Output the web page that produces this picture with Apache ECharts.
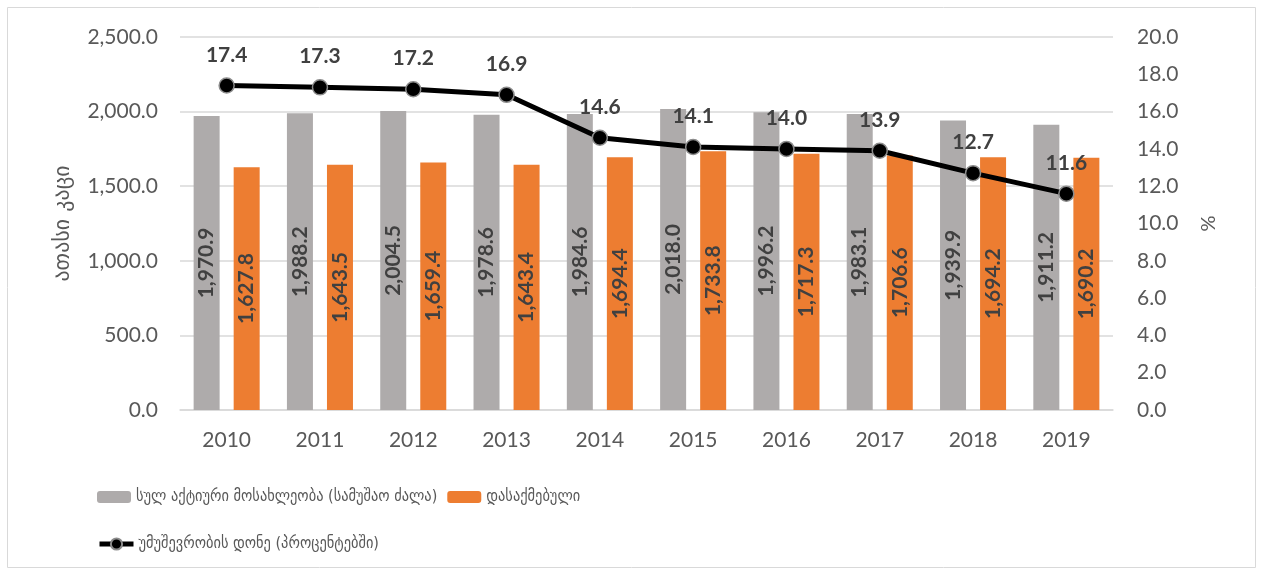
<!DOCTYPE html>
<html><head><meta charset="utf-8">
<script src="https://cdn.jsdelivr.net/npm/echarts@6/dist/echarts.min.js"></script>
<style>html,body{margin:0;padding:0;background:#fff}#c{width:1261px;height:571px}</style>
</head><body><div id="c"></div>
<script>
const categories = ['2010','2011','2012','2013','2014','2015','2016','2017','2018','2019'];
const labourForce = [1970.9, 1988.2, 2004.5, 1978.6, 1984.6, 2018.0, 1996.2, 1983.1, 1939.9, 1911.2];
const employed = [1627.8, 1643.5, 1659.4, 1643.4, 1694.4, 1733.8, 1717.3, 1706.6, 1694.2, 1690.2];
const unemploymentRate = [17.4, 17.3, 17.2, 16.9, 14.6, 14.1, 14.0, 13.9, 12.7, 11.6];
const seriesNames = ['სულ აქტიური მოსახლეობა (სამუშაო ძალა)', 'დასაქმებული', 'უმუშევრობის დონე (პროცენტებში)'];
const leftAxisName = 'ათასი კაცი';
const rightAxisName = '%';

const font = 'Lato, "DejaVu Sans", sans-serif';
const geo = '"DejaVu Sans Condensed", "DejaVu Sans", sans-serif';
const fmt1 = v => Number(v).toLocaleString('en-US', {minimumFractionDigits:1, maximumFractionDigits:1});
const chart = echarts.init(document.getElementById('c'), null, {renderer:'canvas'});
chart.setOption({
  animation: false,
  textStyle: {fontFamily: font},
  graphic: [{type:'rect', shape:{x:7.5, y:7.5, width:1248, height:560}, style:{fill:'none', stroke:'#d9d9d9', lineWidth:1}}],
  grid: {left:180, right:148, top:37, bottom:161},
  legend: [
    {data:[seriesNames[0], seriesNames[1]], left:92, top:484, itemWidth:34, itemHeight:12, itemGap:10,
     textStyle:{fontSize:16, color:'#595959', fontFamily:geo}},
    {data:[seriesNames[2]], left:92, top:531, itemWidth:34, itemHeight:14,
     lineStyle:{width:5},
     textStyle:{fontSize:16, color:'#595959', fontFamily:geo}}
  ],
  xAxis: {type:'category', data:categories,
    axisLine:{lineStyle:{color:'#d9d9d9', width:1.5}}, axisTick:{show:false},
    axisLabel:{fontSize:21, color:'#595959', margin:20}},
  yAxis: [
    {type:'value', min:0, max:2500, interval:500, name:leftAxisName, nameLocation:'middle', nameGap:106,
     nameTextStyle:{fontSize:22, color:'#595959', fontFamily:'"DejaVu Sans", sans-serif'},
     axisLabel:{fontSize:21, color:'#595959', formatter:fmt1, margin:22},
     splitLine:{lineStyle:{color:'#d9d9d9', width:1.5}}, axisLine:{show:false}, axisTick:{show:false}},
    {type:'value', min:0, max:20, interval:2, name:rightAxisName, nameLocation:'middle', nameGap:84, nameRotate:-90,
     nameTextStyle:{fontSize:20, color:'#595959'},
     axisLabel:{fontSize:21, color:'#595959', formatter:fmt1, margin:24},
     splitLine:{show:false}, axisLine:{show:false}, axisTick:{show:false}}
  ],
  series: [
    {name:seriesNames[0], type:'bar', data:labourForce, barWidth:26, barGap:'54%',
     itemStyle:{color:'#aeabab'},
     label:{show:true, position:'inside', rotate:90, fontSize:21, fontWeight:'bold', color:'#404040', formatter:p=>fmt1(p.value)}},
    {name:seriesNames[1], type:'bar', data:employed, barWidth:26,
     itemStyle:{color:'#ed7d31'},
     label:{show:true, position:'inside', rotate:90, fontSize:21, fontWeight:'bold', color:'#404040', formatter:p=>fmt1(p.value)}},
    {name:seriesNames[2], type:'line', yAxisIndex:1, data:unemploymentRate,
     lineStyle:{color:'#000', width:5}, symbol:'circle', symbolSize:15,
     itemStyle:{color:'#000', borderColor:'#8c8c8c', borderWidth:1.5},
     label:{show:true, position:'top', distance:12, fontSize:21, fontWeight:'bold', color:'#404040', formatter:p=>fmt1(p.value)}}
  ]
});
</script></body></html>
